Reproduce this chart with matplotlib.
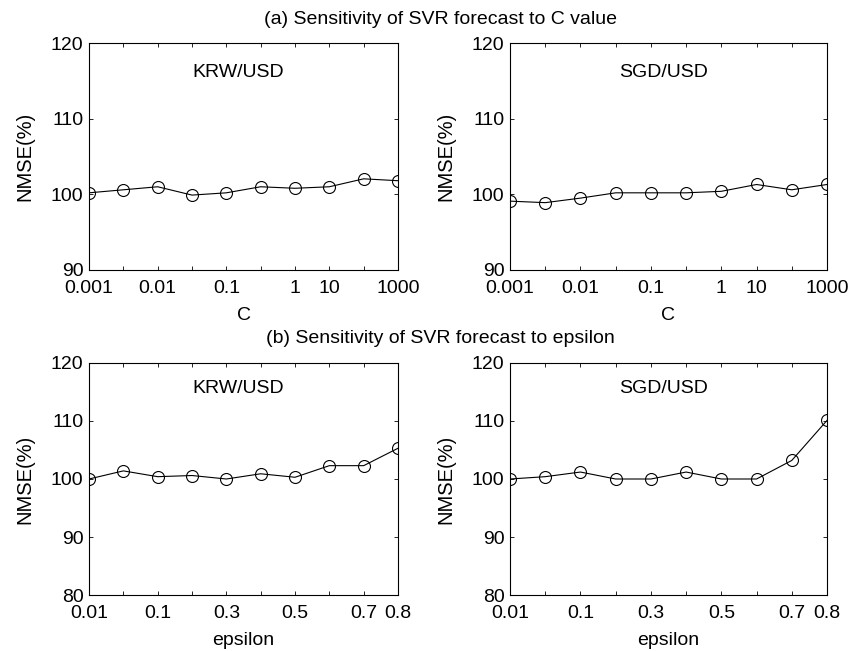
import matplotlib
matplotlib.use("Agg")
import matplotlib.pyplot as plt

plt.rcParams['font.family'] = ['Liberation Sans', 'DejaVu Sans']

# Data
positions = list(range(1, 11))
c_ticklabels = ['0.001', '', '0.01', '', '0.1', '', '1', '10', '', '1000']
eps_ticklabels = ['0.01', '', '0.1', '', '0.3', '', '0.5', '', '0.7', '0.8']

krw_c = [100.2, 100.6, 101.0, 99.9, 100.2, 101.0, 100.8, 101.0, 102.05, 101.8]
sgd_c = [99.1, 98.9, 99.5, 100.2, 100.2, 100.2, 100.4, 101.3, 100.6, 101.3]
krw_eps = [100.0, 101.4, 100.4, 100.6, 100.0, 100.9, 100.3, 102.3, 102.3, 105.3]
sgd_eps = [100.0, 100.4, 101.2, 100.0, 100.0, 101.2, 100.0, 100.0, 103.2, 110.1]

W, H = 852, 651
fig = plt.figure(figsize=(W / 100, H / 100), dpi=100)


def px_axes(x0, y0, x1, y1):
    return fig.add_axes([x0 / W, 1 - y1 / H, (x1 - x0) / W, (y1 - y0) / H])


FS = 14
panels = [
    ((89, 43, 398, 270), krw_c, c_ticklabels, 'C', 'KRW/USD', (90, 120), [90, 100, 110, 120]),
    ((510, 43, 827, 270), sgd_c, c_ticklabels, 'C', 'SGD/USD', (90, 120), [90, 100, 110, 120]),
    ((89, 363, 398, 595), krw_eps, eps_ticklabels, 'epsilon', 'KRW/USD', (80, 120), [80, 90, 100, 110, 120]),
    ((510, 363, 827, 595), sgd_eps, eps_ticklabels, 'epsilon', 'SGD/USD', (80, 120), [80, 90, 100, 110, 120]),
]

for box, vals, tlabels, xlabel, name, ylim, yticks in panels:
    ax = px_axes(*box)
    ax.plot(positions, vals, color='black', lw=0.8, marker='o', markersize=8.6,
            markerfacecolor='none', markeredgecolor='black', markeredgewidth=0.8)
    ax.set_xlim(1, 10)
    ax.set_ylim(*ylim)
    ax.set_xticks(positions)
    ax.set_xticklabels(tlabels)
    ax.set_yticks(yticks)
    ax.tick_params(direction='in', top=True, right=True, length=3, width=0.6,
                   labelsize=FS)
    ax.tick_params(axis='x', pad=7.5)
    ax.tick_params(axis='y', pad=4)
    for s in ax.spines.values():
        s.set_linewidth(0.8)
    ax.set_xlabel(xlabel, fontsize=FS, labelpad=7)
    ax.set_ylabel('NMSE(%)', fontsize=14.5, labelpad=12)
    ytext = ylim[0] + (ylim[1] - ylim[0]) * (0.87 if ylim[0] == 90 else 0.89)
    ax.text(5.35, ytext, name, ha='center', va='center', fontsize=14)

fig.text(440 / W, 1 - 20 / H, '(a) Sensitivity of SVR forecast to C value',
         ha='center', va='center', fontsize=14)
fig.text(440 / W, 1 - 338 / H, '(b) Sensitivity of SVR forecast to epsilon',
         ha='center', va='center', fontsize=14)

fig.savefig('out.png', dpi=100)
